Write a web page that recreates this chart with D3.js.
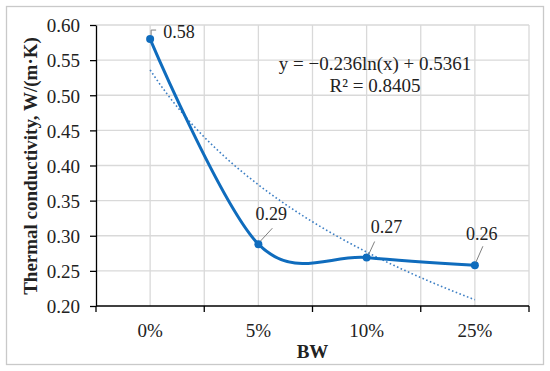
<!DOCTYPE html>
<html>
<head>
<meta charset="utf-8">
<script src="https://cdn.jsdelivr.net/npm/d3@7"></script>
<style>
  body { margin: 0; background: #fff; }
  svg { display: block; font-family: "Liberation Serif", "Times New Roman", serif; }
  .grid line { stroke: #d9d9d9; stroke-width: 1.3; }
  .axis path, .axis line { stroke: #000; stroke-width: 1.3; }
  .axis text { font-family: "Liberation Serif", serif; font-size: 19px; fill: #222; }
</style>
</head>
<body>
<div id="chart"></div>
<script>
// data
const categories = ['0%', '5%', '10%', '25%'];
const conductivity = [0.58, 0.288, 0.269, 0.258];
const labels = ['0.58', '0.29', '0.27', '0.26'];
const yTicks = [0.20, 0.25, 0.30, 0.35, 0.40, 0.45, 0.50, 0.55, 0.60];
// logarithmic trendline as printed on the chart
const trendSlope = -0.236;
const trendIntercept = 0.5361;
const trendText = ['y = \u22120.236ln(x) + 0.5361', 'R\u00b2 = 0.8405'];

const W = 550, H = 371;
const margin = {t:25, r:21, b:65, l:96};
const w = W - margin.l - margin.r;
const h = H - margin.t - margin.b;

const svg = d3.select('#chart')
  .append('svg')
  .attr('width', W)
  .attr('height', H);

// outer frame
svg.append('rect')
  .attr('x', 6.5).attr('y', 6.5)
  .attr('width', 537).attr('height', 358)
  .attr('fill', '#fff')
  .attr('stroke', '#c9c9c9')
  .attr('stroke-width', 1.3);

const plot = svg.append('g')
  .attr('transform', `translate(${margin.l}, ${margin.t})`);

const x = d3.scaleBand().domain(categories).range([0, w]);
const y = d3.scaleLinear().domain([0.2, 0.6]).range([h, 0]);
const cx = d => x(d) + x.bandwidth()/2;

//gridlines
const grid = plot.append('g').attr('class', 'grid');
grid.selectAll('.hg')
  .data(yTicks.slice(1))
  .enter().append('line')
  .attr('x1', 0).attr('x2', w)
  .attr('y1', d => y(d)).attr('y2', d => y(d));
// vertical ones at every category edge and centre
const vLines = categories.map(c => x(c)).concat(categories.map(cx), [w]).filter(v => v > 0);
grid.selectAll('.vg')
  .data(vLines)
  .enter().append('line')
  .attr('x1', d => d).attr('x2', d => d)
  .attr('y1', 0).attr('y2', h);

//axes
plot.append('g')
  .attr('class', 'axis')
  .call(d3.axisLeft(y).tickValues(yTicks).tickSize(6).tickSizeOuter(0).tickPadding(10).tickFormat(d3.format('.2f')))
  .call(g => g.selectAll('text').attr('dy', '0.36em'));

const xAxis = plot.append('g')
  .attr('class', 'axis')
  .attr('transform', `translate(0, ${h})`)
  .call(d3.axisBottom(x).tickSize(0).tickPadding(18));
xAxis.select('.domain').attr('d', `M0,0H${w}`);
xAxis.selectAll('.edge')
  .data(categories.map(c => x(c)).concat([w]))
  .enter().append('line')
  .attr('x1', d => d).attr('x2', d => d)
  .attr('y1', 0).attr('y2', 6);

//trendline
const xt = d3.scaleLinear().domain([1, categories.length]).range([cx(categories[0]), cx(categories[categories.length-1])]);
const trendPts = d3.range(1, categories.length + 0.001, 0.05)
  .map(v => [xt(v), y(trendSlope*Math.log(v) + trendIntercept)]);
plot.append('path')
  .attr('d', d3.line()(trendPts))
  .attr('fill', 'none')
  .attr('stroke', '#3d7fc4')
  .attr('stroke-width', 1.6)
  .attr('stroke-dasharray', '1.6,2.4');

//smoothed series line
const pts = categories.map((c, i) => [cx(c), y(conductivity[i])]);
plot.append('path')
  .attr('d', d3.line().curve(d3.curveCardinal.tension(0))(pts))
  .attr('fill', 'none')
  .attr('stroke', '#0f6cbd')
  .attr('stroke-width', 3);

plot.selectAll('.pt')
  .data(pts)
  .enter().append('circle')
  .attr('cx', d => d[0]).attr('cy', d => d[1])
  .attr('r', 4)
  .attr('fill', '#0f6cbd');

//data labels with leader lines (offsets from the point)
const labelOffsets = [
  {lead:[[1,-4],[1,-9],[6,-9]], tx:13, ty:-1},
  {lead:[[2,-3],[14,-16]], tx:-3, ty:-24},
  {lead:[[2,-3],[8,-16]], tx:4, ty:-25},
  {lead:[[1,-3],[8,-19]], tx:-9, ty:-25}
];
pts.forEach((p, i) => {
  const o = labelOffsets[i];
  plot.append('path')
    .attr('d', d3.line()(o.lead.map(q => [p[0]+q[0], p[1]+q[1]])))
    .attr('fill', 'none')
    .attr('stroke', '#7f7f7f')
    .attr('stroke-width', 1);
  plot.append('text')
    .attr('x', p[0] + o.tx)
    .attr('y', p[1] + o.ty)
    .attr('font-size', 18)
    .attr('fill', '#222')
    .text(labels[i]);
});

//trendline equation
plot.selectAll('.eq')
  .data(trendText)
  .enter().append('text')
  .attr('x', 279)
  .attr('y', (d, i) => 45 + i*22)
  .attr('text-anchor', 'middle')
  .attr('font-size', 19)
  .attr('fill', '#222')
  .text(d => d);

//axis titles
svg.append('text')
  .attr('x', margin.l + w/2)
  .attr('y', 358)
  .attr('text-anchor', 'middle')
  .attr('font-weight', 'bold')
  .attr('font-size', 19)
  .attr('fill', '#222')
  .text('BW');

svg.append('text')
  .attr('transform', 'translate(37, 166) rotate(-90)')
  .attr('text-anchor', 'middle')
  .attr('font-weight', 'bold')
  .attr('font-size', 19)
  .attr('fill', '#222')
  .text('Thermal conductivity, W/(m\u00b7K)');
</script>
</body>
</html>
